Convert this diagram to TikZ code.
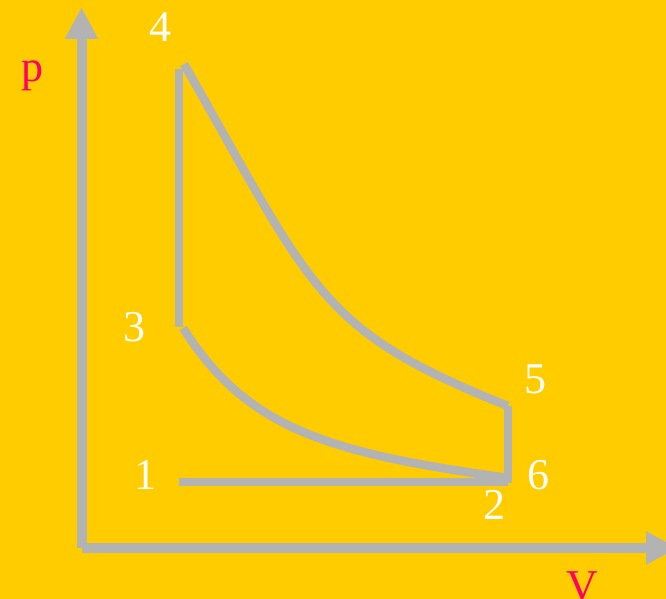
\documentclass[tikz,border=0pt]{standalone}
\usepackage{fontspec}
\setmainfont{Liberation Serif}
\usetikzlibrary{arrows.meta}
\definecolor{bg}{HTML}{FFCC00}
\definecolor{axisgray}{HTML}{B3B3B3}
\definecolor{labelred}{HTML}{FF0066}
\begin{document}
\begin{tikzpicture}[x=1pt,y=-1pt,
  axis/.style={draw=axisgray,line width=10pt,-{Triangle[length=32pt,width=31pt]}},
  cycleline/.style={draw=axisgray,line width=8.5pt},
  num/.style={text=white,font=\fontsize{44}{44}\selectfont,inner sep=0pt,anchor=base},
  axlabel/.style={num,text=labelred}]
\fill[bg] (0,0) rectangle (666,599);
\useasboundingbox (0,0) rectangle (666,599);
% axes
\coordinate (origin) at (81.5,548);
\coordinate (ytip) at (81.5,7);
\coordinate (xstart) at (82,548);
\coordinate (xtip) at (678,548);
\draw[axis] (origin) -- (ytip);
\draw[axis] (xstart) -- (xtip);
% cycle points
\coordinate (p1) at (179,482);
\coordinate (p2) at (508,482);
\coordinate (p3) at (179,327);
\coordinate (p4) at (179,69);
\coordinate (p5) at (508,406);
\coordinate (p6) at (508,483);
\coordinate (c4) at (184,64);
\coordinate (c3) at (183,328);
\coordinate (c2) at (508,478);
\draw[cycleline] (p1) -- (p2);
\draw[cycleline] (p3) -- (p4);
\draw[cycleline] (p5) -- (p6);
\draw[cycleline] (c4) .. controls (314,292) and (318,330) .. (p5);
\draw[cycleline] (c3) .. controls (247,429) and (328,453) .. (c2);
% labels
\node[num] (l4) at (160,42) {4};
\node[num] (l3) at (134.5,341) {3};
\node[num] (l1) at (145,489) {1};
\node[num] (l5) at (535,393) {5};
\node[num] (l6) at (538,489) {6};
\node[num] (l2) at (494,519) {2};
\node[axlabel] (lp) at (32,82) {p};
\node[axlabel] (lV) at (582,600) {V};
\end{tikzpicture}
\end{document}
